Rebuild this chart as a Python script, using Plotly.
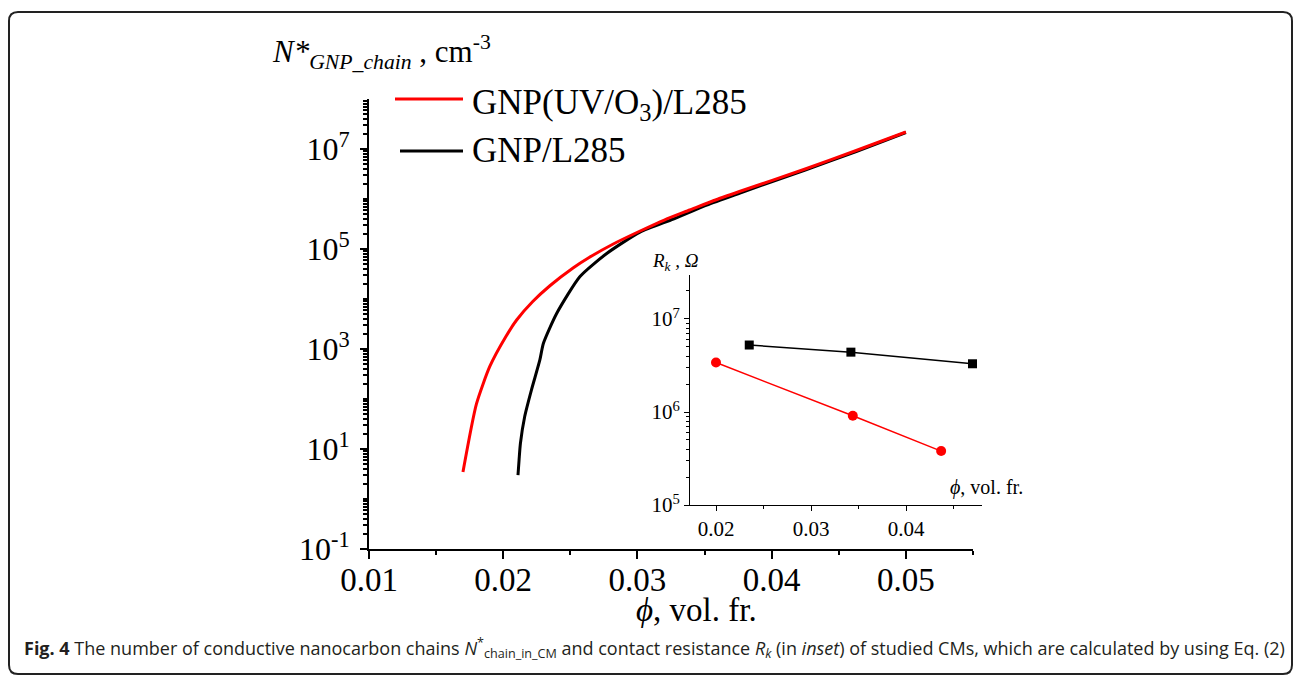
import plotly.graph_objects as go

W, H = 1295, 676

# ---- main chart data ----
phi_uv = [0.0170, 0.0180, 0.0190, 0.0202, 0.0210, 0.0222, 0.0235, 0.0252, 0.0264,
          0.0282, 0.0302, 0.0320, 0.0339, 0.0357, 0.0376, 0.0425, 0.0463, 0.0500]
n_uv = [3.47, 79, 447, 1778, 3800, 8900, 18600, 41700, 67600,
        126000, 229000, 380000, 603000, 933000, 1.41e6, 3.98e6, 9.33e6, 2.19e7]

phi_gnp = [0.02110, 0.02118, 0.02128, 0.02160, 0.02210, 0.02273, 0.02299, 0.02398,
           0.02572, 0.02771, 0.03019, 0.03267, 0.03516, 0.03764, 0.0425, 0.0463, 0.0500]
n_gnp = [3.0, 6.0, 12.9, 44.7, 151, 603, 1290, 5130,
         28200, 81300, 218000, 398000, 759000, 1.32e6, 3.8e6, 8.9e6, 2.14e7]

# ---- inset data ----
inset_phi_gnp = [0.0235, 0.0342, 0.0470]
inset_rk_gnp = [5.25e6, 4.4e6, 3.3e6]
inset_phi_uv = [0.0200, 0.0344, 0.0437]
inset_rk_uv = [3.4e6, 9.1e5, 3.8e5]

series_names = ["GNP(UV/O<sub>3</sub>)/L285", "GNP/L285"]

main_y_tickvals = [1e-1, 1e1, 1e3, 1e5, 1e7]
main_y_ticktext = ["10<sup>-1</sup>", "10<sup>1</sup>", "10<sup>3</sup>", "10<sup>5</sup>", "10<sup>7</sup>"]
inset_y_tickvals = [1e5, 1e6, 1e7]
inset_y_ticktext = ["10<sup>5</sup>", "10<sup>6</sup>", "10<sup>7</sup>"]

caption = ("<b>Fig. 4</b> The number of conductive nanocarbon chains "
           "<i>N</i><sup>*</sup><sub>chain_in_CM</sub> and contact resistance "
           "<i>R<sub>k</sub></i> (in <i>inset</i>) of studied CMs, which are calculated by using Eq. (2)")

SERIF = "Liberation Serif, Times New Roman, serif"
RED = "#ff0000"


def minor_log(lo, hi):
    vals = []
    for e in range(lo, hi + 1):
        for m in range(1, 10):
            vals.append(m * 10.0 ** e)
    return vals


def px(x):
    return x / W


def py(y):
    return 1 - y / H


fig = go.Figure()
fig.add_trace(go.Scatter(x=phi_gnp, y=n_gnp, mode="lines", name=series_names[1],
                         line=dict(color="black", width=3, shape="spline", smoothing=0.6),
                         showlegend=False))
fig.add_trace(go.Scatter(x=phi_uv, y=n_uv, mode="lines", name=series_names[0],
                         line=dict(color=RED, width=3, shape="spline", smoothing=0.6),
                         showlegend=False))

fig.add_trace(go.Scatter(x=inset_phi_gnp, y=inset_rk_gnp, mode="lines+markers",
                         xaxis="x2", yaxis="y2", showlegend=False,
                         line=dict(color="black", width=1.5),
                         marker=dict(symbol="square", size=9, color="black")))
fig.add_trace(go.Scatter(x=inset_phi_uv, y=inset_rk_uv, mode="lines+markers",
                         xaxis="x2", yaxis="y2", showlegend=False,
                         line=dict(color=RED, width=1.5),
                         marker=dict(symbol="circle", size=10, color=RED)))

fig.update_layout(
    template="none",
    width=W, height=H,
    margin=dict(l=0, r=0, t=0, b=0, pad=0, autoexpand=False),
    paper_bgcolor="white", plot_bgcolor="white",
    showlegend=False,
    font=dict(family=SERIF, color="black"),
    xaxis=dict(domain=[px(369), px(973)], range=[0.01, 0.055], anchor="y", automargin=False,
               showgrid=False, zeroline=False, showline=True, linecolor="black", linewidth=2,
               ticks="outside", ticklen=8, tickwidth=2, tickcolor="black",
               tickvals=[0.01, 0.02, 0.03, 0.04, 0.05], ticktext=["0.01", "0.02", "0.03", "0.04", "0.05"],
               tickfont=dict(family=SERIF, size=33, color="black"),
               ticklabelstandoff=-8,
               minor=dict(tickvals=[0.015, 0.025, 0.035, 0.045, 0.055], ticklen=4, tickwidth=2,
                          tickcolor="black", ticks="outside", showgrid=False)),
    yaxis=dict(domain=[py(549), py(99)], type="log", range=[-1, 8], anchor="x", automargin=False,
               showgrid=False, zeroline=False, showline=True, linecolor="black", linewidth=2,
               ticks="outside", ticklen=7, tickwidth=2, tickcolor="black",
               tickvals=main_y_tickvals, ticktext=main_y_ticktext,
               tickfont=dict(family=SERIF, size=32, color="black"),
               ticklabelstandoff=4,
               minor=dict(tickvals=minor_log(-1, 7), ticklen=4, tickwidth=1.5,
                          tickcolor="black", ticks="outside", showgrid=False)),
    xaxis2=dict(domain=[px(690), px(982)], range=[0.017263, 0.0480], anchor="y2", automargin=False,
                showgrid=False, zeroline=False, showline=True, linecolor="black", linewidth=1,
                ticks="outside", ticklen=5, tickwidth=1, tickcolor="black",
                tickvals=[0.02, 0.03, 0.04], ticktext=["0.02", "0.03", "0.04"],
                tickfont=dict(family=SERIF, size=21, color="black"),
                minor=dict(tickvals=[0.025, 0.035, 0.045], ticklen=3, tickwidth=1,
                           tickcolor="black", ticks="outside", showgrid=False)),
    yaxis2=dict(domain=[py(505), py(275)], type="log", range=[5, 7.473], anchor="x2", automargin=False,
                showgrid=False, zeroline=False, showline=True, linecolor="black", linewidth=1,
                ticks="outside", ticklen=5, tickwidth=1, tickcolor="black",
                tickvals=inset_y_tickvals, ticktext=inset_y_ticktext,
                tickfont=dict(family=SERIF, size=21, color="black"),
                minor=dict(tickvals=minor_log(5, 7), ticklen=3, tickwidth=1,
                           tickcolor="black", ticks="outside", showgrid=False)),
)

# ---- rounded border ----
x0, y0, x1, y1, r = 9, 12, 1292, 674, 9
path = (f"M {px(x0 + r)},{py(y0)} L {px(x1 - r)},{py(y0)} "
        f"Q {px(x1)},{py(y0)} {px(x1)},{py(y0 + r)} L {px(x1)},{py(y1 - r)} "
        f"Q {px(x1)},{py(y1)} {px(x1 - r)},{py(y1)} L {px(x0 + r)},{py(y1)} "
        f"Q {px(x0)},{py(y1)} {px(x0)},{py(y1 - r)} L {px(x0)},{py(y0 + r)} "
        f"Q {px(x0)},{py(y0)} {px(x0 + r)},{py(y0)} Z")
fig.add_shape(type="path", path=path, xref="paper", yref="paper",
              line=dict(color="#222222", width=2))

# ---- legend (manual) ----
fig.add_shape(type="line", xref="paper", yref="paper", x0=px(395), x1=px(463), y0=py(99), y1=py(99),
              line=dict(color=RED, width=3))
fig.add_shape(type="line", xref="paper", yref="paper", x0=px(400), x1=px(463), y0=py(151), y1=py(151),
              line=dict(color="black", width=3))
fig.add_annotation(x=px(470), y=py(104), xref="paper", yref="paper", xanchor="left", yanchor="middle",
                   text=series_names[0], showarrow=False, font=dict(family=SERIF, size=35, color="black"))
fig.add_annotation(x=px(470), y=py(150), xref="paper", yref="paper", xanchor="left", yanchor="middle",
                   text=series_names[1], showarrow=False, font=dict(family=SERIF, size=35, color="black"))

# ---- axis titles ----
fig.add_annotation(x=px(270), y=py(52), xref="paper", yref="paper", xanchor="left", yanchor="middle",
                   text="<i>N*</i><sub><i>GNP_chain</i></sub> , cm<sup>-3</sup>", showarrow=False,
                   font=dict(family=SERIF, size=31, color="black"))
fig.add_annotation(x=px(634), y=py(610), xref="paper", yref="paper", xanchor="left", yanchor="middle",
                   text="<i>ϕ</i>, vol. fr.", showarrow=False,
                   font=dict(family=SERIF, size=33, color="black"))
fig.add_annotation(x=px(650), y=py(262), xref="paper", yref="paper", xanchor="left", yanchor="middle",
                   text="<i>R</i><sub><i>k</i></sub><i> , Ω</i>", showarrow=False,
                   font=dict(family=SERIF, size=19, color="black"))
fig.add_annotation(x=px(948), y=py(487), xref="paper", yref="paper", xanchor="left", yanchor="middle",
                   text="<i>ϕ</i>, vol. fr.", showarrow=False,
                   font=dict(family=SERIF, size=20, color="black"))

# ---- caption ----
fig.add_annotation(x=px(22), y=py(648), xref="paper", yref="paper", xanchor="left", yanchor="middle",
                   text=caption, showarrow=False,
                   font=dict(family="Open Sans, sans-serif", size=18, color="#231f20"))

fig.write_html("out.html", config={"displayModeBar": False},
               post_script="document.body.style.margin='0px';document.body.style.overflow='hidden';")
